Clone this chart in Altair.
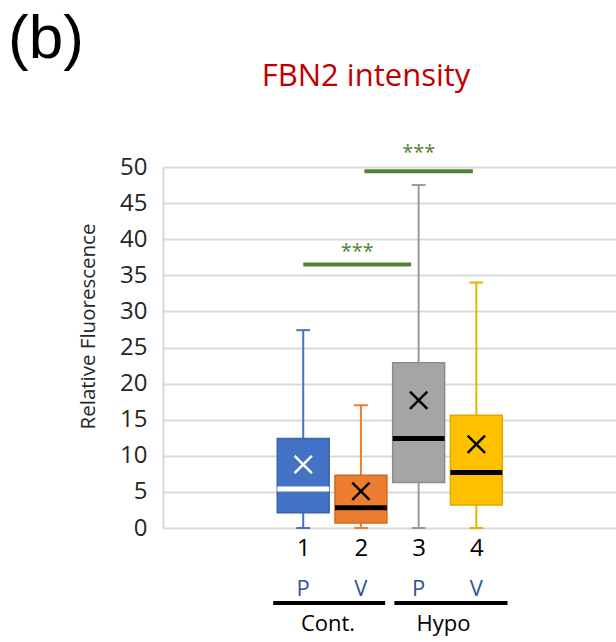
import altair as alt
import pandas as pd

# ---- data ----
groups = ["1", "2", "3", "4"]
positions = [1, 2, 3, 4]
conditions = ["P", "V", "P", "V"]
whisker_low = [0, 0, 0, 0]
q1 = [2.1, 0.7, 6.3, 3.2]
median = [5.4, 2.8, 12.4, 7.7]
q3 = [12.4, 7.3, 22.9, 15.6]
whisker_high = [27.4, 17.0, 47.5, 34.0]
mean = [8.8, 5.1, 17.7, 11.6]
y_ticks = [0, 5, 10, 15, 20, 25, 30, 35, 40, 45, 50]

sig_start = [1.0, 2.06]
sig_end = [2.87, 3.94]
sig_level = [36.5, 49.4]
sig_star_y = [38.2, 51.9]
sig_label = ["***", "***"]

group_names = ["Cont.", "Hypo"]
group_start = [0.48, 2.58]
group_end = [2.42, 4.54]
group_center = [1.43, 3.43]

FONT = "Open Sans"
box_fill = ["#4472C4", "#ED7D31", "#A5A5A5", "#FFC000"]
box_stroke = ["#3A64B0", "#D0691F", "#8C8C8C", "#E0A800"]
whisker_col = ["#4472C4", "#ED7D31", "#9A9A9A", "#E8B400"]
marker_col = ["#FFFFFF", "#000000", "#000000", "#000000"]

df = pd.DataFrame({
    "group": groups, "pos": positions, "cond": conditions,
    "lo": whisker_low, "q1": q1, "med": median, "q3": q3,
    "hi": whisker_high, "mean": mean,
})
df["left"] = df["pos"] - 0.45
df["right"] = df["pos"] + 0.45
df["capl"] = df["pos"] - 0.12
df["capr"] = df["pos"] + 0.12

sig = pd.DataFrame({"s": sig_start, "e": sig_end, "y": sig_level,
                    "ys": sig_star_y, "lab": sig_label})
sig["mid"] = (sig["s"] + sig["e"]) / 2
grp = pd.DataFrame({"name": group_names, "s": group_start, "e": group_end,
                    "c": group_center})

xs = alt.Scale(domain=[-1.43, 6.42], nice=False, zero=False)
ys = alt.Scale(domain=[0, 50], nice=False)

X_axis = alt.Axis(values=positions, format="d", title=None, grid=False,
                  domain=False, ticks=False, labelFontSize=24, labelFont=FONT,
                  labelColor="#000000", labelPadding=8)
Y_axis = alt.Axis(values=y_ticks, title="Relative Fluorescence",
                  grid=True, gridColor="#D9D9D9", gridWidth=2, domain=True,
                  domainColor="#D9D9D9", domainWidth=2, ticks=False,
                  labelOverlap=False,
                  labelFontSize=24, labelFont=FONT, labelColor="#262626",
                  labelPadding=16, titleFontSize=20.5, titleFont=FONT,
                  titleFontWeight="normal", titleColor="#262626",
                  titleAngle=-90, titleX=-75, titleY=159,
                  titleAlign="center", titleBaseline="middle")


def Yq(field):
    return alt.Y(field, scale=ys, axis=Y_axis)


def Xq(field):
    return alt.X(field, scale=xs, axis=X_axis)


base = alt.Chart(df)


def scl(rng):
    return alt.Scale(domain=groups, range=rng)


whisker = base.mark_rule(strokeWidth=2).encode(
    x=Xq("pos:Q"), y=Yq("lo:Q"), y2="hi:Q",
    color=alt.Color("group:N", scale=scl(whisker_col), legend=None))
cap_hi = base.mark_rule(strokeWidth=2).encode(
    x=Xq("capl:Q"), x2="capr:Q", y=Yq("hi:Q"),
    color=alt.Color("group:N", scale=scl(whisker_col), legend=None))
cap_lo = base.mark_rule(strokeWidth=2).encode(
    x=Xq("capl:Q"), x2="capr:Q", y=Yq("lo:Q"),
    color=alt.Color("group:N", scale=scl(whisker_col), legend=None))
whiskers = alt.layer(whisker, cap_hi, cap_lo)

box = base.mark_bar(strokeWidth=1.5).encode(
    x=Xq("left:Q"), x2="right:Q",
    y=Yq("q1:Q"), y2="q3:Q",
    fill=alt.Fill("group:N", scale=scl(box_fill), legend=None),
    stroke=alt.Stroke("group:N", scale=scl(box_stroke), legend=None))

med = base.mark_rule(strokeWidth=5).encode(
    x=Xq("left:Q"), x2="right:Q", y=Yq("med:Q"),
    color=alt.Color("group:N", scale=scl(marker_col), legend=None))
mean_mark = base.mark_point(shape="M-1,-1L1,1M-1,1L1,-1", size=300, filled=False,
                            strokeWidth=2.5, opacity=1).encode(
    x=Xq("pos:Q"), y=Yq("mean:Q"),
    color=alt.Color("group:N", scale=scl(marker_col), legend=None))
markers = alt.layer(med, mean_mark)

sig_base = alt.Chart(sig)
sig_bar = sig_base.mark_rule(strokeWidth=4, color="#548235").encode(
    x=Xq("s:Q"), x2="e:Q", y=Yq("y:Q"))
sig_txt = sig_base.mark_text(font=FONT, fontSize=20, color="#548235",
                             baseline="middle", align="center").encode(
    x=Xq("mid:Q"), y=Yq("ys:Q"), text="lab:N")

cond_txt = base.mark_text(font=FONT, fontSize=22, color="#2F5597",
                          baseline="middle", align="center").encode(
    x=Xq("pos:Q"), y=alt.value(422), text="cond:N")

grp_base = alt.Chart(grp)
grp_line = grp_base.mark_rule(strokeWidth=4, color="#000000").encode(
    x=Xq("s:Q"), x2="e:Q", y=alt.value(436))
grp_txt = grp_base.mark_text(font=FONT, fontSize=22, color="#000000",
                             baseline="middle", align="center").encode(
    x=Xq("c:Q"), y=alt.value(457), text="name:N")

title_df = pd.DataFrame({"t": ["FBN2 intensity"]})
title_txt = alt.Chart(title_df).mark_text(font=FONT, fontSize=31, color="#C00000",
                                           align="center", baseline="alphabetic").encode(
    x=alt.value(203), y=alt.value(-81), text="t:N")
panel_df = pd.DataFrame({"t": ["(b)"]})
panel_txt = alt.Chart(panel_df).mark_text(font="Liberation Sans", fontSize=62,
                                           color="#000000", align="left",
                                           baseline="alphabetic").encode(
    x=alt.value(-155), y=alt.value(-109), text="t:N")

chart = alt.layer(
    whiskers, box, markers, sig_bar, sig_txt,
    cond_txt, grp_line, grp_txt, title_txt, panel_txt
).resolve_scale(color="independent").properties(
    width=453, height=361,
    autosize=alt.AutoSizeParams(type="none"),
    padding={"left": 163, "top": 167, "right": 0, "bottom": 114},
    background="white",
).configure_view(stroke=None)

chart.save("out.html", embed_options={"renderer": "svg", "actions": False})
